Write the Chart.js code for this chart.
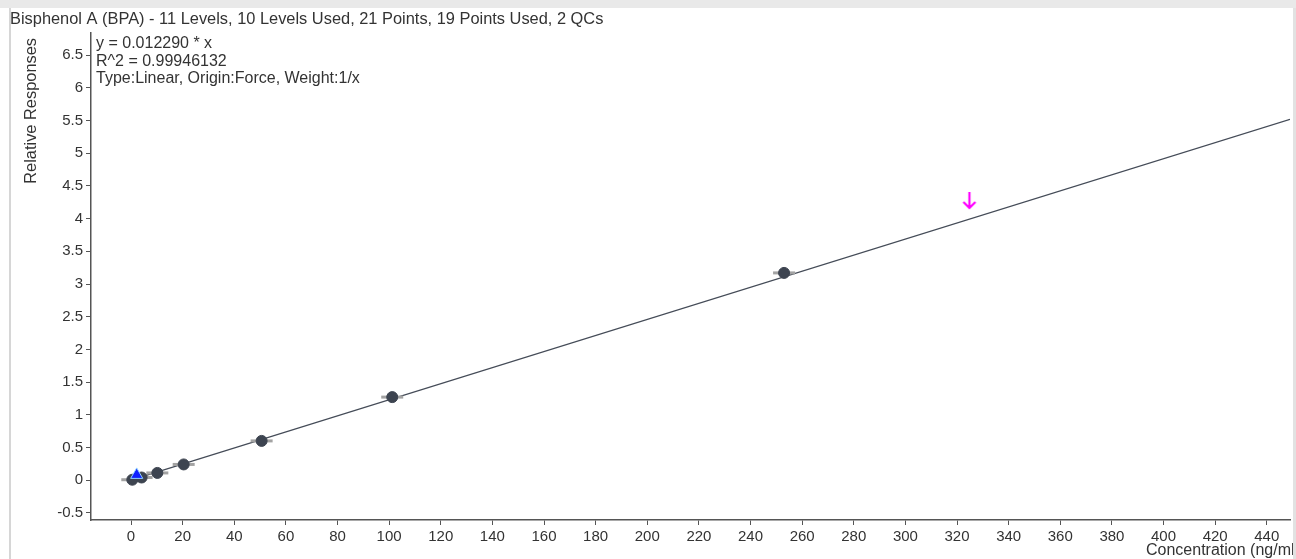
<!DOCTYPE html>
<html>
<head>
<meta charset="utf-8">
<script src="https://cdn.jsdelivr.net/npm/chart.js@4.4.1/dist/chart.umd.min.js"></script>
<style>
  html, body { margin: 0; padding: 0; background: #fff; }
  #wrap { width: 1296px; height: 559px; position: relative; }
</style>
</head>
<body>
<div id="wrap"><canvas id="calib" width="1296" height="559"></canvas></div>
<script>
// Calibration points
const concentrations = [0.5, 4.1, 10.2, 20.4, 50.6, 101.2, 253];
const responses = [0.006, 0.04, 0.11, 0.24, 0.6, 1.27, 3.17];

// QC points
const qcConc = [2.2];
const qcResp = [0.08];

// Out-of-range marker
const flagConc = [324.8];
const flagResp = [4.27];

const slope = 0.012290;
const fitRange = [0, 449];

const titleText = 'Bisphenol A (BPA) - 11 Levels, 10 Levels Used, 21 Points, 19 Points Used, 2 QCs';
const fitLines = ['y = 0.012290 * x', 'R^2 = 0.99946132', 'Type:Linear, Origin:Force, Weight:1/x'];

const FONT = '"Liberation Sans", Arial, sans-serif';
const TEXT = '#333';
const AXIS = '#555';

function makeArrow() {
    const c = document.createElement('canvas');
    c.width = 16; c.height = 20;
    const g = c.getContext('2d');
    g.strokeStyle = '#ff00ff';
    g.lineWidth = 2.2;
    g.beginPath();
    g.moveTo(8, 1); g.lineTo(8, 17);
    g.moveTo(2, 11); g.lineTo(8, 17); g.lineTo(14, 11);
    g.stroke();
    return c;
}

const toPts = (xs, ys) => xs.map((x, i) => ({ x, y: ys[i] }));

// Frame, title and annotations drawn straight on the canvas
const decor = {
    id: 'decor',
    beforeDraw(chart) {
        const ctx = chart.ctx;
        ctx.save();
        ctx.fillStyle = '#e9e9e9';
        ctx.fillRect(0, 0, 1296, 8);
        ctx.fillStyle = '#d6d6d6';
        ctx.fillRect(9, 8, 2, 551);
        ctx.fillStyle = '#e2e2e2';
        ctx.fillRect(1293, 8, 3, 551);
        ctx.restore();
    },
    afterDraw(chart) {
        const ctx = chart.ctx;
        ctx.save();
        ctx.fillStyle = TEXT;
        ctx.textBaseline = 'middle';
        ctx.font = '16.4px ' + FONT;
        ctx.fillText(titleText, 10, 19);
        ctx.font = '16px ' + FONT;
        fitLines.forEach((t, i) => ctx.fillText(t, 96, 44 + i * 17.5));

        // x title, clipped at the right frame
        ctx.save();
        ctx.beginPath();
        ctx.rect(0, 0, 1293, 559);
        ctx.clip();
        ctx.fillText('Concentration (ng/ml)', 1146, 551);
        ctx.restore();

        // y title
        ctx.font = '16.4px ' + FONT;
        ctx.translate(31, 38);
        ctx.rotate(-Math.PI / 2);
        ctx.textAlign = 'right';
        ctx.fillText('Relative Responses', 0, 0);
        ctx.restore();
    }
};

new Chart(document.getElementById('calib'), {
    type: 'scatter',
    data: {
        datasets: [
            {
                type: 'line',
                label: 'fit',
                data: fitRange.map(x => ({ x, y: slope * x })),
                borderColor: '#454c58',
                borderWidth: 1.2,
                pointRadius: 0,
                order: 3
            },
            {
                label: 'spread',
                data: toPts(concentrations, responses),
                pointStyle: 'line',
                pointRadius: 11,
                borderColor: '#a3a3a3',
                borderWidth: 3,
                order: 2
            },
            {
                label: 'standards',
                data: toPts(concentrations, responses),
                pointRadius: 5.5,
                backgroundColor: '#3d4450',
                borderColor: '#3d4450',
                order: 1
            },
            {
                label: 'QC',
                data: toPts(qcConc, qcResp),
                pointStyle: 'triangle',
                pointRadius: 7,
                backgroundColor: '#1020ff',
                borderColor: '#8fd0ff',
                borderWidth: 1,
                order: 0
            },
            {
                label: 'flag',
                data: toPts(flagConc, flagResp),
                pointStyle: makeArrow(),
                order: 0
            }
        ]
    },
    options: {
        responsive: false,
        animation: false,
        events: [],
        layout: { autoPadding: false, padding: { left: 0, top: 33, right: 6, bottom: 0 } },
        plugins: {
            legend: { display: false },
            tooltip: { enabled: false },
            title: { display: false }
        },
        scales: {
            x: {
                type: 'linear',
                min: -15.5,
                max: 449,
                afterFit: s => { s.height = 39; s.paddingLeft = 0; s.paddingRight = 0; },
                border: { color: AXIS, width: 1.5 },
                grid: { drawOnChartArea: false, drawTicks: true, tickLength: 5, color: AXIS },
                ticks: {
                    stepSize: 20,
                    includeBounds: false,
                    maxRotation: 0,
                    autoSkip: false,
                    padding: 3,
                    color: TEXT,
                    font: { family: FONT, size: 15 },
                    callback: v => String(v)
                }
            },
            y: {
                type: 'linear',
                min: -0.61,
                max: 6.84,
                afterFit: s => { s.width = 91; s.paddingTop = 0; s.paddingBottom = 0; },
                border: { color: AXIS, width: 1.5 },
                grid: { drawOnChartArea: false, drawTicks: true, tickLength: 5, color: AXIS },
                ticks: {
                    stepSize: 0.5,
                    includeBounds: false,
                    autoSkip: false,
                    padding: 3,
                    color: TEXT,
                    font: { family: FONT, size: 15 },
                    callback: v => String(v)
                }
            }
        }
    },
    plugins: [decor]
});
</script>
</body>
</html>
